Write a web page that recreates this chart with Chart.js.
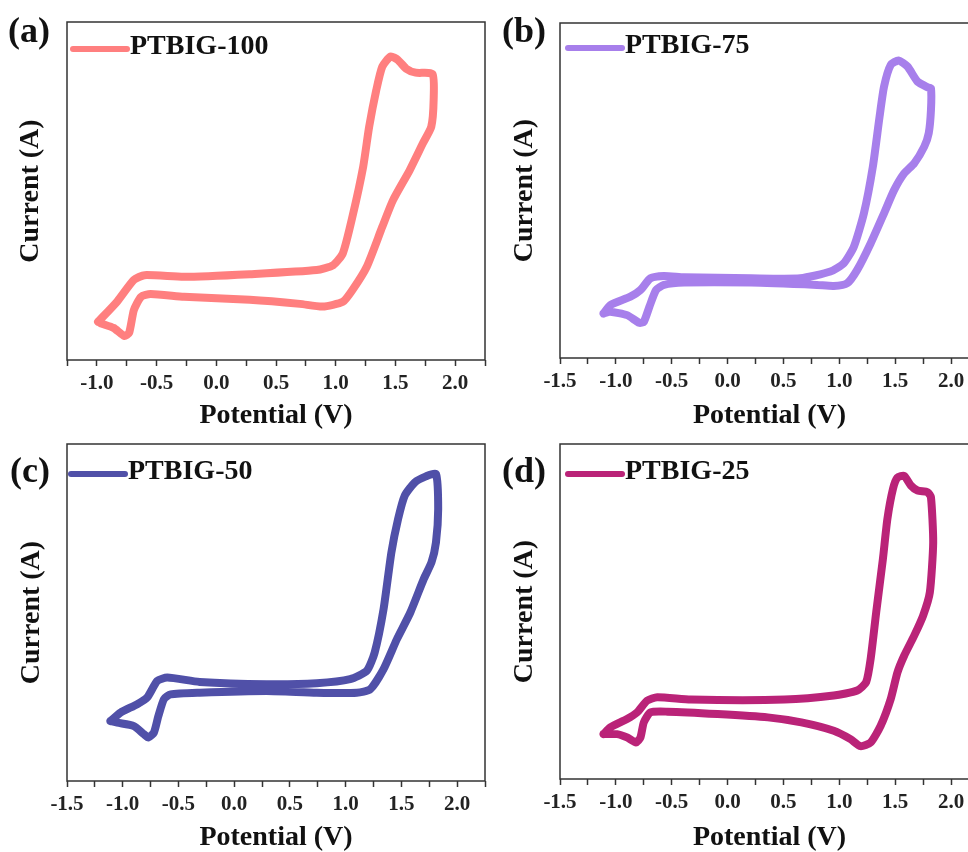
<!DOCTYPE html>
<html>
<head>
<meta charset="utf-8">
<script src="https://cdn.jsdelivr.net/npm/chart.js@4.4.1/dist/chart.umd.min.js"></script>
<style>
  body { margin: 0; background: #fff; overflow: hidden; }
  #wrap { position: relative; width: 968px; height: 852px; overflow: hidden; background: #fff; }
  canvas { position: absolute; }
  .tag { position: absolute; font: bold 36px 'Liberation Serif', 'Times New Roman', serif; line-height: 36px; color: #111; }
</style>
</head>
<body>
<div id="wrap">
  <canvas id="cvA" width="490" height="430" style="left:0;top:0"></canvas>
  <canvas id="cvB" width="500" height="430" style="left:490px;top:0"></canvas>
  <canvas id="cvC" width="490" height="422" style="left:0;top:430px"></canvas>
  <canvas id="cvD" width="500" height="422" style="left:490px;top:430px"></canvas>
  <div class="tag" style="left:8px;top:12px">(a)</div>
  <div class="tag" style="left:502px;top:12px">(b)</div>
  <div class="tag" style="left:10px;top:452px">(c)</div>
  <div class="tag" style="left:502px;top:452px">(d)</div>
</div>
<script>
// --- Datos (corriente en unidades arbitrarias, 0-100) ---
const potentialA = [-0.99, -0.83, -0.69, -0.60, -0.27, 0.28, 0.84, 0.98, 1.06, 1.14, 1.23, 1.28, 1.34, 1.39, 1.46, 1.52, 1.59, 1.67, 1.81, 1.82, 1.80, 1.73, 1.62, 1.48, 1.39, 1.26, 1.14, 1.06, 0.89, 0.70, 0.28, -0.27, -0.55, -0.63, -0.69, -0.73, -0.77, -0.86, -0.97, -0.99];
const currentA = [11.3, 17.3, 23.7, 25.1, 24.6, 25.4, 26.6, 28.1, 31.6, 42.4, 57.2, 69.0, 79.9, 86.8, 89.8, 88.8, 86.2, 85.0, 84.6, 77.0, 69.0, 64.1, 56.2, 47.3, 39.4, 27.6, 20.7, 17.2, 15.8, 16.6, 17.8, 18.7, 19.5, 18.7, 14.8, 8.0, 7.1, 9.5, 10.9, 11.3];

const potentialB = [-1.11, -1.05, -0.87, -0.78, -0.69, -0.57, -0.39, 0.21, 0.65, 0.92, 1.04, 1.13, 1.22, 1.30, 1.36, 1.40, 1.46, 1.53, 1.61, 1.70, 1.79, 1.82, 1.82, 1.80, 1.76, 1.67, 1.58, 1.49, 1.40, 1.28, 1.16, 1.07, 0.95, 0.80, 0.21, -0.39, -0.57, -0.64, -0.70, -0.75, -0.79, -0.90, -1.05, -1.11];
const currentB = [13.3, 15.8, 18.3, 20.3, 23.8, 24.5, 24.1, 23.8, 23.8, 25.8, 28.3, 33.2, 43.2, 57.1, 72.0, 81.0, 87.5, 88.8, 87.0, 82.5, 80.8, 80.5, 74.0, 67.1, 63.1, 58.1, 55.1, 50.1, 43.2, 34.2, 26.3, 22.3, 21.5, 21.8, 22.5, 22.5, 21.8, 20.3, 15.3, 10.8, 10.5, 12.8, 13.8, 13.3];

const potentialC = [-1.11, -1.02, -0.87, -0.78, -0.69, -0.60, -0.31, 0.29, 0.74, 1.04, 1.19, 1.26, 1.34, 1.41, 1.47, 1.53, 1.62, 1.72, 1.81, 1.83, 1.81, 1.77, 1.70, 1.58, 1.46, 1.34, 1.22, 1.10, 0.74, 0.29, -0.31, -0.57, -0.63, -0.68, -0.72, -0.77, -0.81, -0.90, -1.05, -1.11];
const currentC = [17.8, 20.3, 22.8, 24.8, 29.7, 30.7, 29.4, 28.7, 29.0, 30.2, 32.7, 38.1, 51.0, 67.8, 77.7, 84.7, 88.6, 90.4, 91.1, 80.7, 70.8, 64.9, 59.9, 50.0, 42.1, 33.2, 27.2, 26.2, 26.2, 26.7, 26.2, 25.7, 24.3, 19.3, 14.4, 12.9, 13.9, 16.3, 17.3, 17.8];

const potentialD = [-1.11, -1.05, -0.90, -0.81, -0.72, -0.63, -0.33, 0.51, 0.95, 1.16, 1.24, 1.28, 1.33, 1.39, 1.43, 1.48, 1.52, 1.58, 1.64, 1.70, 1.79, 1.82, 1.84, 1.81, 1.75, 1.67, 1.58, 1.52, 1.46, 1.37, 1.28, 1.19, 1.10, 0.95, 0.66, 0.36, -0.09, -0.54, -0.69, -0.75, -0.78, -0.82, -0.90, -0.99, -1.11];
const currentD = [13.4, 15.4, 17.9, 19.9, 23.4, 24.4, 23.7, 23.7, 24.9, 26.4, 28.9, 35.8, 49.8, 65.7, 77.6, 86.6, 90.0, 90.5, 87.6, 86.1, 85.6, 84.1, 70.6, 55.7, 48.8, 42.8, 36.8, 31.8, 23.9, 15.9, 10.9, 9.8, 11.9, 14.4, 16.9, 18.4, 19.4, 20.1, 19.9, 16.9, 12.4, 10.9, 12.4, 13.4, 13.4];

// ticks del eje x (cada 0.25 V, etiqueta cada 0.5 V)
const ticksA = [-1.25, -1.0, -0.75, -0.5, -0.25, 0, 0.25, 0.5, 0.75, 1.0, 1.25, 1.5, 1.75, 2.0, 2.25];
const ticksBCD = [-1.5, -1.25, -1.0, -0.75, -0.5, -0.25, 0, 0.25, 0.5, 0.75, 1.0, 1.25, 1.5, 1.75, 2.0, 2.25];

const FAMILY = "'Liberation Serif', 'Times New Roman', serif";

// marco + leyenda dentro del area del grafico
const framePlugin = {
  id: 'frame',
  afterDatasetsDraw(chart) {
    const { ctx, chartArea: a } = chart;
    ctx.save();
    ctx.strokeStyle = '#333';
    ctx.lineWidth = 1.5;
    ctx.strokeRect(a.left, a.top, a.right - a.left, a.bottom - a.top);

    const ds = chart.data.datasets[0];
    const lg = chart.options.plugins.frame;
    ctx.strokeStyle = ds.borderColor;
    ctx.lineWidth = 6;
    ctx.lineCap = 'round';
    ctx.beginPath();
    ctx.moveTo(a.left + lg.x0, a.top + lg.y);
    ctx.lineTo(a.left + lg.x0 + 54, a.top + lg.y);
    ctx.stroke();
    ctx.fillStyle = '#111';
    ctx.font = 'bold 28px ' + FAMILY;
    ctx.textBaseline = 'middle';
    ctx.fillText(ds.label, a.left + lg.x0 + 57, a.top + lg.y - 2);
    ctx.restore();
  }
};

function crearPanel(id, label, color, potential, current, tickValues, cfg) {
  const points = potential.map((v, i) => ({ x: v, y: current[i] }));
  return new Chart(document.getElementById(id), {
    type: 'scatter',
    data: {
      datasets: [{
        label: label,
        data: points,
        showLine: true,
        borderColor: color,
        backgroundColor: color,
        borderWidth: 8,
        borderJoinStyle: 'round',
        borderCapStyle: 'round',
        pointRadius: 0,
        tension: 0.2
      }]
    },
    plugins: [framePlugin],
    options: {
      responsive: false,
      animation: false,
      devicePixelRatio: 1,
      layout: { padding: { top: cfg.top, right: cfg.right, left: 0, bottom: 0 } },
      plugins: {
        legend: { display: false },
        tooltip: { enabled: false },
        frame: { x0: cfg.legX, y: cfg.legY }
      },
      scales: {
        x: {
          type: 'linear',
          min: tickValues[0],
          max: tickValues[tickValues.length - 1],
          border: { display: false },
          grid: { display: true, drawOnChartArea: false, drawTicks: true, tickLength: 6, tickColor: '#333', tickWidth: 1.5 },
          afterBuildTicks: (axis) => { axis.ticks = tickValues.map(v => ({ value: v })); },
          ticks: {
            autoSkip: false,
            maxRotation: 0,
            padding: 5,
            color: '#222',
            font: { family: FAMILY, size: 21, weight: 'bold' },
            callback: (v) => Math.abs(v * 2 - Math.round(v * 2)) < 1e-6 ? Number(v).toFixed(1) : ''
          },
          title: {
            display: true,
            text: 'Potential (V)',
            color: '#111',
            padding: 0,
            font: { family: FAMILY, size: 28, weight: 'bold', lineHeight: 1 }
          },
          afterFit: (axis) => { axis.height = cfg.xh; }
        },
        y: {
          min: 0,
          max: 100,
          border: { display: false },
          grid: { display: false },
          ticks: { display: false },
          title: {
            display: true,
            text: 'Current (A)',
            color: '#111',
            padding: { top: cfg.yPad, bottom: 0 },
            font: { family: FAMILY, size: 28, weight: 'bold', lineHeight: 1 }
          },
          afterFit: (axis) => { axis.width = cfg.yw; }
        }
      }
    }
  });
}

crearPanel('cvA', 'PTBIG-100', '#FF7F7F', potentialA, currentA, ticksA,
  { top: 22, right: 4, xh: 70, yw: 67, yPad: 17, legX: 6, legY: 27 });
crearPanel('cvB', 'PTBIG-75', '#A77FEB', potentialB, currentB, ticksBCD,
  { top: 23, right: 11, xh: 72, yw: 70, yPad: 21, legX: 8, legY: 25 });
crearPanel('cvC', 'PTBIG-50', '#5050A8', potentialC, currentC, ticksBCD,
  { top: 14, right: 5, xh: 71, yw: 67, yPad: 18, legX: 4, legY: 30 });
crearPanel('cvD', 'PTBIG-25', '#BA2378', potentialD, currentD, ticksBCD,
  { top: 14, right: 11, xh: 73, yw: 70, yPad: 21, legX: 8, legY: 30 });
</script>
</body>
</html>
